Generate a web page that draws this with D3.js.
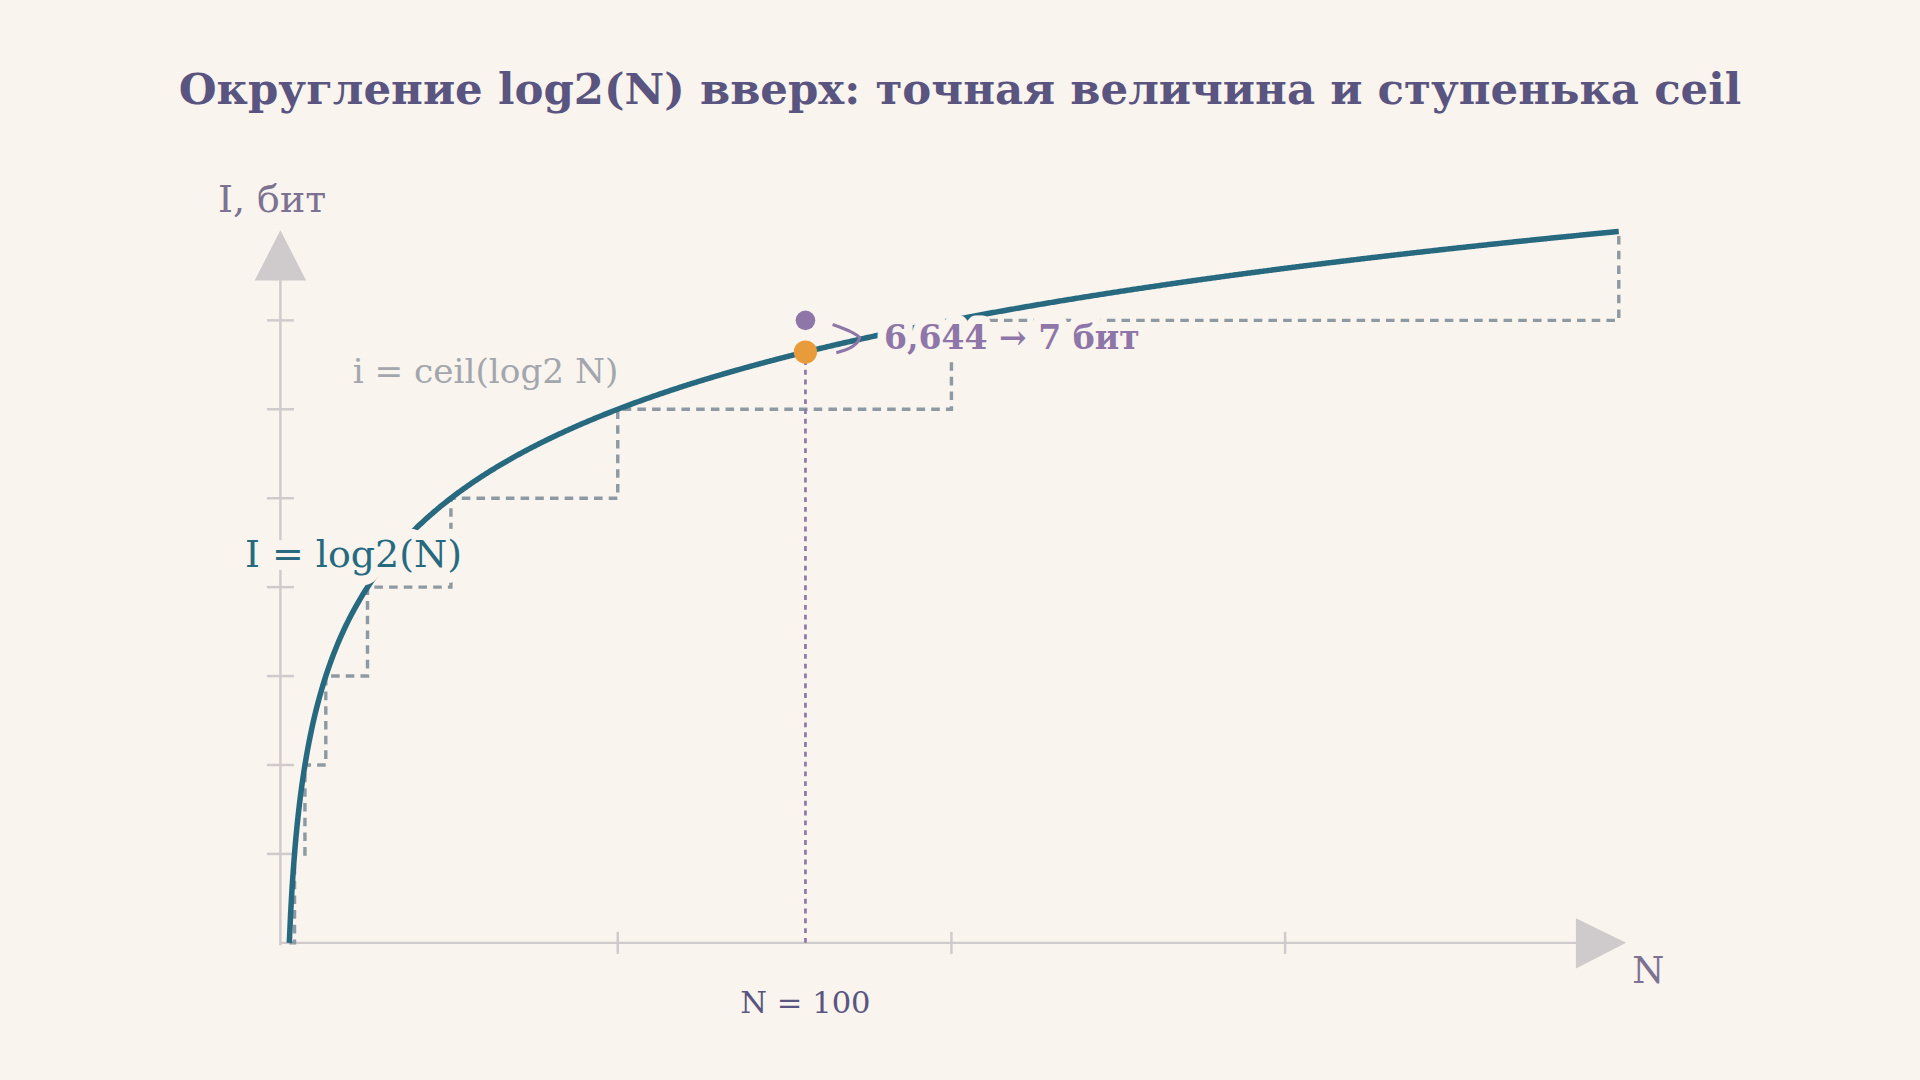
<!DOCTYPE html>
<html><head><meta charset="utf-8">
<script src="https://cdn.jsdelivr.net/npm/d3@7"></script>
<style>body{margin:0;background:#f9f4ee;}svg{display:block}</style></head>
<body><svg id="c" width="1920" height="1080" viewBox="0 0 1568 882"></svg>
<script>
const title = "Округление log2(N) вверх: точная величина и ступенька ceil";
const xTicks = [64, 128, 192];
const yTicks = [1, 2, 3, 4, 5, 6, 7];
const stepN = [1, 2, 4, 8, 16, 32, 64, 128, 256];
const stepI = [0, 1, 2, 3, 4, 5, 6, 7, 8];
const markN = 100;
const markExact = 6.644;
const markCeil = 7;
const bg = "#f9f4ee";

const svg = d3.select("#c");
svg.append("rect").attr("width",1568).attr("height",882).attr("fill",bg);
const x = d3.scaleLinear().domain([0,256]).range([232,1322]);
const y = d3.scaleLinear().domain([0,8]).range([770,189]);

svg.append("text").attr("x",784).attr("y",85).attr("text-anchor","middle")
  .attr("font-family","DejaVu Serif").attr("font-weight","bold").attr("font-size",35.5)
  .attr("fill","#5a5480").text(title);

const axc = "#cfcacb";
svg.append("line").attr("x1",229).attr("x2",1295).attr("y1",770).attr("y2",770).attr("stroke",axc).attr("stroke-width",2);
svg.append("line").attr("x1",229).attr("x2",229).attr("y1",772).attr("y2",222).attr("stroke",axc).attr("stroke-width",2);
svg.append("path").attr("d","M1287,750 L1328,770 L1287,791 Z").attr("fill",axc);
svg.append("path").attr("d","M208,229 L229,188 L250,229 Z").attr("fill",axc);
svg.selectAll(".xt").data(xTicks).join("line").attr("x1",d=>x(d)).attr("x2",d=>x(d))
  .attr("y1",761).attr("y2",779).attr("stroke",axc).attr("stroke-width",2);
svg.selectAll(".yt").data(yTicks).join("line").attr("y1",d=>y(d)).attr("y2",d=>y(d))
  .attr("x1",218).attr("x2",240).attr("stroke",axc).attr("stroke-width",2);
svg.append("text").attr("x",178).attr("y",173).attr("font-family","DejaVu Serif").attr("font-size",31).attr("fill","#7d7292").text("I, бит");
svg.append("text").attr("x",1333).attr("y",803).attr("font-family","DejaVu Serif").attr("font-size",30).attr("fill","#7d7292").text("N");

const stepData = stepN.map((n,i)=>[n,stepI[i]]);
svg.append("path").datum(stepData)
  .attr("d", d3.line().x(d=>x(d[0])).y(d=>y(d[1])).curve(d3.curveStepAfter))
  .attr("fill","none").attr("stroke","#8e9aa3").attr("stroke-width",2.8).attr("stroke-dasharray","7,5");

svg.append("line").attr("x1",x(markN)).attr("x2",x(markN)).attr("y1",y(0)).attr("y2",y(markExact))
  .attr("stroke","#8e77a8").attr("stroke-width",2.2).attr("stroke-dasharray","4,4");

const curveN = d3.range(1,256.01,0.25);
svg.append("path").datum(curveN)
  .attr("d", d3.line().x(n=>x(n)).y(n=>y(Math.log2(n))))
  .attr("fill","none").attr("stroke","#276a80").attr("stroke-width",4.5);

function halo(t,sw){t.attr("stroke",bg).attr("stroke-width",sw).attr("stroke-linejoin","round").attr("paint-order","stroke");return t;}
halo(svg.append("text").attr("x",288).attr("y",313).attr("font-family","DejaVu Serif").attr("font-size",28).attr("fill","#a3a7ad").text("i = ceil(log2 N)"),10);
halo(svg.append("text").attr("x",200).attr("y",463).attr("font-family","DejaVu Serif").attr("font-size",31).attr("fill","#276a80").text("I = log2(N)"),16);
halo(svg.append("text").attr("x",722).attr("y",285).attr("font-family","DejaVu Serif").attr("font-weight","bold").attr("font-size",27).attr("fill","#8e77a8").text("6,644 → 7 бит"),14);

svg.append("path").attr("d","M680,265 Q700,272 702,276 Q700,284 683,288")
  .attr("fill","none").attr("stroke","#8e77a8").attr("stroke-width",2.5);

svg.append("circle").attr("cx",x(markN)).attr("cy",y(markCeil)).attr("r",8).attr("fill","#8e77a8");
svg.append("circle").attr("cx",x(markN)).attr("cy",y(markExact)).attr("r",9.5).attr("fill","#e79b3a");

svg.append("text").attr("x",x(markN)).attr("y",827).attr("text-anchor","middle")
  .attr("font-family","DejaVu Serif").attr("font-size",25).attr("fill","#5a5480").text("N = " + markN);
</script></body></html>
